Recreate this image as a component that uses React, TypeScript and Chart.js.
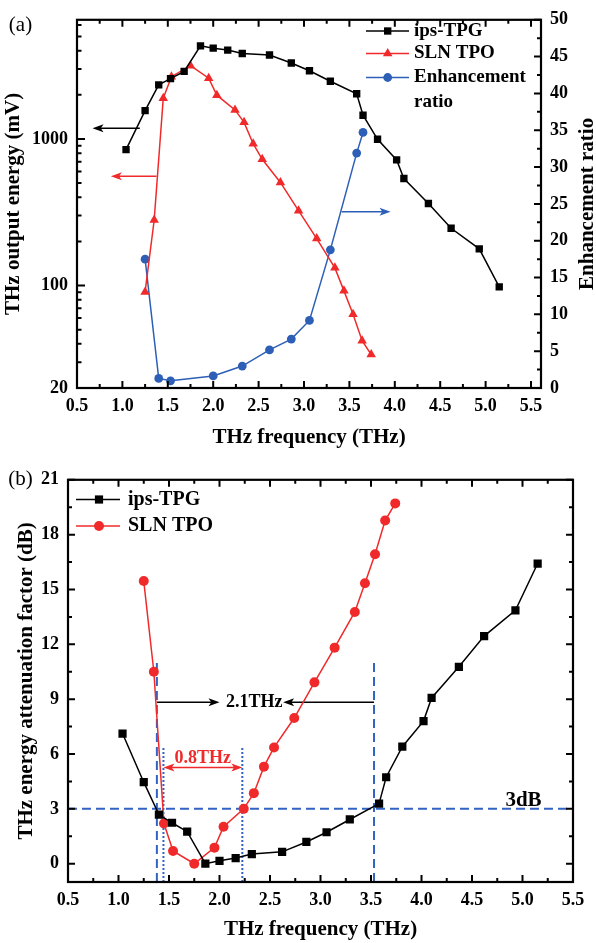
import React, { useEffect, useRef } from 'react';
import { Chart, registerables } from 'chart.js';
Chart.register(...registerables);

// ---------- data ----------
const ipsFreq = [1.04, 1.25, 1.40, 1.53, 1.68, 1.86, 2.00, 2.16, 2.32, 2.62, 2.86, 3.06, 3.29, 3.58, 3.65, 3.81, 4.02, 4.10, 4.37, 4.62, 4.93, 5.15];
const ipsEnergy = [845, 1560, 2340, 2580, 2890, 4316, 4165, 4040, 3830, 3740, 3300, 2920, 2475, 2035, 1452, 995, 720, 537, 363, 246, 178, 98];
const ipsAtten = [7.12, 4.46, 2.69, 2.24, 1.75, 0, 0.16, 0.31, 0.53, 0.65, 1.19, 1.72, 2.42, 3.29, 4.73, 6.40, 7.80, 9.07, 10.77, 12.45, 13.86, 16.42];

const slnFreq = [1.25, 1.35, 1.45, 1.54, 1.75, 1.95, 2.04, 2.24, 2.34, 2.44, 2.54, 2.74, 2.94, 3.14, 3.34, 3.44, 3.54, 3.64, 3.74];
const slnEnergy = [90.5, 280, 1895, 2660, 3163, 2600, 1990, 1578, 1298, 928, 727, 505, 324, 209, 132, 92, 63.8, 42, 33.8];
const slnAtten = [15.46, 10.5, 2.2, 0.70, 0, 0.88, 2.02, 3.0, 3.86, 5.31, 6.36, 7.97, 9.92, 11.82, 13.77, 15.34, 16.93, 18.77, 19.71];

const ratioFreq = [1.25, 1.40, 1.53, 2.00, 2.32, 2.62, 2.86, 3.06, 3.29, 3.58, 3.65];
const ratioValue = [17.5, 1.3, 0.98, 1.64, 2.98, 5.17, 6.64, 9.18, 18.76, 31.9, 34.7];

// ---------- ticks ----------
const xTicks = [0.5, 1.0, 1.5, 2.0, 2.5, 3.0, 3.5, 4.0, 4.5, 5.0, 5.5];
const xMinorTicks = [0.75, 1.25, 1.75, 2.25, 2.75, 3.25, 3.75, 4.25, 4.75, 5.25];
const energyTicks = [20, 100, 1000];
const energyMinorTicks = [30, 40, 50, 60, 70, 80, 90, 200, 300, 400, 500, 600, 700, 800, 900, 2000, 3000, 4000, 5000, 6000];
const ratioTicks = [0, 5, 10, 15, 20, 25, 30, 35, 40, 45, 50];
const ratioMinorTicks = [2.5, 7.5, 12.5, 17.5, 22.5, 27.5, 32.5, 37.5, 42.5, 47.5];
const attenTicks = [0, 3, 6, 9, 12, 15, 18, 21];
const attenMinorTicks = [1.5, 4.5, 7.5, 10.5, 13.5, 16.5, 19.5];

// ---------- annotation values ----------
const bandWide = [1.38, 3.53]; // 3 dB points ips-TPG
const bandNarrow = [1.445, 2.226]; // 3 dB points SLN TPO
const threeDb = 3;

const FONT = '"Liberation Serif", "Times New Roman", serif';
const BLACK = '#000000';
const RED = '#f02a2a';
const BLUE = '#2d5fb6';
const DASH_BLUE = '#3263c4';

type Ctx = CanvasRenderingContext2D;

function marker(ctx: Ctx, style: string, x: number, y: number, r: number, color: string) {
  ctx.save();
  ctx.fillStyle = color;
  ctx.beginPath();
  if (style === 'rect') {
    const s = r * Math.SQRT1_2;
    ctx.rect(x - s, y - s, 2 * s, 2 * s);
  } else if (style === 'triangle') {
    for (let i = 0; i < 3; i++) {
      const a = (i * 2 * Math.PI) / 3;
      const px = x + Math.sin(a) * r;
      const py = y - Math.cos(a) * r;
      if (i === 0) ctx.moveTo(px, py);
      else ctx.lineTo(px, py);
    }
    ctx.closePath();
  } else {
    ctx.arc(x, y, r, 0, Math.PI * 2);
  }
  ctx.fill();
  ctx.restore();
}

function arrowH(ctx: Ctx, x1: number, x2: number, y: number, color: string, lw = 1.5, hl = 11, hw = 4) {
  const dir = x2 > x1 ? 1 : -1;
  ctx.save();
  ctx.strokeStyle = color;
  ctx.fillStyle = color;
  ctx.lineWidth = lw;
  ctx.beginPath();
  ctx.moveTo(x1, y);
  ctx.lineTo(x2 - dir * hl * 0.6, y);
  ctx.stroke();
  ctx.beginPath();
  ctx.moveTo(x2, y);
  ctx.lineTo(x2 - dir * hl, y - hw);
  ctx.lineTo(x2 - dir * hl * 0.75, y);
  ctx.lineTo(x2 - dir * hl, y + hw);
  ctx.closePath();
  ctx.fill();
  ctx.restore();
}

function arrowHead(ctx: Ctx, x: number, y: number, dir: number, color: string, hl = 11, hw = 4) {
  ctx.save();
  ctx.fillStyle = color;
  ctx.beginPath();
  ctx.moveTo(x, y);
  ctx.lineTo(x - dir * hl, y - hw);
  ctx.lineTo(x - dir * hl * 0.75, y);
  ctx.lineTo(x - dir * hl, y + hw);
  ctx.closePath();
  ctx.fill();
  ctx.restore();
}

function text(ctx: Ctx, s: string, x: number, y: number, size: number, color = BLACK, bold = true, rot = 0, align: CanvasTextAlign = 'center') {
  ctx.save();
  ctx.font = `${bold ? 'bold ' : ''}${size}px ${FONT}`;
  ctx.fillStyle = color;
  ctx.textAlign = align;
  ctx.textBaseline = 'middle';
  ctx.translate(x, y);
  ctx.rotate(rot);
  ctx.fillText(s, 0, 0);
  ctx.restore();
}

function drawFrame(ctx: Ctx, a: any, lw: number) {
  ctx.save();
  ctx.strokeStyle = BLACK;
  ctx.lineWidth = lw;
  ctx.strokeRect(a.left, a.top, a.right - a.left, a.bottom - a.top);
  ctx.restore();
}

function ticksX(ctx: Ctx, scale: any, a: any, values: number[], len: number) {
  ctx.save();
  ctx.strokeStyle = BLACK;
  ctx.lineWidth = 2;
  ctx.beginPath();
  values.forEach((v) => {
    const p = scale.getPixelForValue(v);
    ctx.moveTo(p, a.bottom);
    ctx.lineTo(p, a.bottom - len);
    ctx.moveTo(p, a.top);
    ctx.lineTo(p, a.top + len);
  });
  ctx.stroke();
  ctx.restore();
}

function ticksY(ctx: Ctx, scale: any, a: any, values: number[], len: number, left: boolean, right: boolean) {
  ctx.save();
  ctx.strokeStyle = BLACK;
  ctx.lineWidth = 2;
  ctx.beginPath();
  values.forEach((v) => {
    const p = scale.getPixelForValue(v);
    if (left) {
      ctx.moveTo(a.left, p);
      ctx.lineTo(a.left + len, p);
    }
    if (right) {
      ctx.moveTo(a.right, p);
      ctx.lineTo(a.right - len, p);
    }
  });
  ctx.stroke();
  ctx.restore();
}

const tickFont = (size: number) => ({ family: FONT, size, weight: 'bold' as const });

const panelAPlugin = {
  id: 'panelA',
  beforeDatasetsDraw(chart: any) {
    const ctx: Ctx = chart.ctx;
    const x = chart.scales.x, yE = chart.scales.yE, yR = chart.scales.yR;
    arrowH(ctx, x.getPixelForValue(1.192), x.getPixelForValue(0.671), yE.getPixelForValue(1181), BLACK);
    arrowH(ctx, x.getPixelForValue(1.376), x.getPixelForValue(0.873), yE.getPixelForValue(556), RED);
    arrowH(ctx, x.getPixelForValue(3.414), x.getPixelForValue(3.953), yR.getPixelForValue(23.93), BLUE);
  },
  afterDraw(chart: any) {
    const ctx: Ctx = chart.ctx;
    const a = chart.chartArea;
    const x = chart.scales.x, yE = chart.scales.yE, yR = chart.scales.yR;
    drawFrame(ctx, a, 2.2);
    ticksX(ctx, x, a, xTicks, 7);
    ticksX(ctx, x, a, xMinorTicks, 4);
    ticksY(ctx, yE, a, energyTicks, 8, true, false);
    ticksY(ctx, yE, a, energyMinorTicks, 4.5, true, false);
    ticksY(ctx, yR, a, ratioTicks, 7, false, true);
    ticksY(ctx, yR, a, ratioMinorTicks, 4, false, true);
    // legend
    const rows = [
      { label: 'ips-TPG', color: BLACK, style: 'rect', r: 5.2, y: 31 },
      { label: 'SLN TPO', color: RED, style: 'triangle', r: 5.5, y: 53.5 },
      { label: 'Enhancement', color: BLUE, style: 'circle', r: 4.4, y: 77.5 },
    ];
    rows.forEach((r) => {
      ctx.save();
      ctx.strokeStyle = r.color;
      ctx.lineWidth = 1.5;
      ctx.beginPath();
      ctx.moveTo(366, r.y);
      ctx.lineTo(409, r.y);
      ctx.stroke();
      ctx.restore();
      marker(ctx, r.style, 387.7, r.y, r.r, r.color);
      text(ctx, r.label, 414, r.y, 19, BLACK, true, 0, 'left');
    });
    text(ctx, 'ratio', 414, 102.5, 19, BLACK, true, 0, 'left');
    // titles
    text(ctx, 'THz frequency (THz)', (a.left + a.right) / 2, 438, 21);
    text(ctx, 'THz output energy (mV)', 14, (a.top + a.bottom) / 2, 21, BLACK, true, -Math.PI / 2);
    text(ctx, 'Enhancement ratio', 588, (a.top + a.bottom) / 2, 21, BLACK, true, -Math.PI / 2);
    text(ctx, '(a)', 20.5, 25, 21, BLACK, false);
  },
};

const panelBPlugin = {
  id: 'panelB',
  beforeDatasetsDraw(chart: any) {
    const ctx: Ctx = chart.ctx;
    const a = chart.chartArea;
    const x = chart.scales.x, y = chart.scales.y;
    ctx.save();
    ctx.strokeStyle = DASH_BLUE;
    ctx.lineWidth = 2;
    ctx.setLineDash([9, 5]);
    ctx.beginPath();
    const y3 = y.getPixelForValue(threeDb);
    ctx.moveTo(a.left, y3);
    ctx.lineTo(a.right, y3);
    bandWide.forEach((f) => {
      const p = x.getPixelForValue(f);
      ctx.moveTo(p, a.bottom);
      ctx.lineTo(p, y.getPixelForValue(11));
    });
    ctx.stroke();
    ctx.setLineDash([2, 2]);
    ctx.beginPath();
    bandNarrow.forEach((f) => {
      const p = x.getPixelForValue(f);
      ctx.moveTo(p, a.bottom);
      ctx.lineTo(p, y.getPixelForValue(6.4));
    });
    ctx.stroke();
    ctx.restore();

    // 2.1 THz arrows
    const yA = y.getPixelForValue(8.83);
    arrowH(ctx, x.getPixelForValue(bandWide[0]), x.getPixelForValue(2.0), yA, BLACK);
    arrowH(ctx, x.getPixelForValue(bandWide[1]), x.getPixelForValue(2.63), yA, BLACK);
    text(ctx, '2.1THz', x.getPixelForValue(2.345), yA, 18);

    // 0.8 THz double arrow
    const yB = y.getPixelForValue(5.26);
    const xb1 = x.getPixelForValue(bandNarrow[0]);
    const xb2 = x.getPixelForValue(bandNarrow[1]);
    ctx.save();
    ctx.strokeStyle = RED;
    ctx.lineWidth = 1.5;
    ctx.beginPath();
    ctx.moveTo(xb1 + 6, yB);
    ctx.lineTo(xb2 - 6, yB);
    ctx.stroke();
    ctx.restore();
    arrowHead(ctx, xb1, yB, -1, RED);
    arrowHead(ctx, xb2, yB, 1, RED);
    text(ctx, '0.8THz', x.getPixelForValue(1.835), y.getPixelForValue(5.76), 18, RED);

    text(ctx, '3dB', x.getPixelForValue(5.01), y.getPixelForValue(3.45), 21);
  },
  afterDraw(chart: any) {
    const ctx: Ctx = chart.ctx;
    const a = chart.chartArea;
    const x = chart.scales.x, y = chart.scales.y;
    drawFrame(ctx, a, 2.2);
    ticksX(ctx, x, a, xTicks, 7);
    ticksX(ctx, x, a, xMinorTicks, 4);
    ticksY(ctx, y, a, attenTicks, 7, true, true);
    ticksY(ctx, y, a, attenMinorTicks, 4, true, true);
    const rows = [
      { label: 'ips-TPG', color: BLACK, style: 'rect', r: 5.8, y: 39.5 },
      { label: 'SLN TPO', color: RED, style: 'circle', r: 5, y: 66 },
    ];
    rows.forEach((r) => {
      ctx.save();
      ctx.strokeStyle = r.color;
      ctx.lineWidth = 1.5;
      ctx.beginPath();
      ctx.moveTo(76, r.y);
      ctx.lineTo(120, r.y);
      ctx.stroke();
      ctx.restore();
      marker(ctx, r.style, 99, r.y, r.r, r.color);
      text(ctx, r.label, 128, r.y, 20, BLACK, true, 0, 'left');
    });
    text(ctx, 'THz frequency (THz)', (a.left + a.right) / 2, 470, 21);
    text(ctx, 'THz energy attenuation factor (dB)', 27, (a.top + a.bottom) / 2, 21, BLACK, true, -Math.PI / 2);
    text(ctx, '(b)', 20.5, 19, 21, BLACK, false);
  },
};

function toPts(xs: number[], ys: number[]) {
  return xs.map((x, i) => ({ x, y: ys[i] }));
}

function ds(label: string, xs: number[], ys: number[], color: string, style: string, r: number, axis: string) {
  return {
    label,
    data: toPts(xs, ys),
    yAxisID: axis,
    borderColor: color,
    backgroundColor: color,
    borderWidth: 1.5,
    pointStyle: style,
    pointRadius: r,
    pointBorderWidth: 0,
    pointBackgroundColor: color,
    tension: 0,
    fill: false,
  };
}

function PanelA() {
  const ref = useRef<HTMLCanvasElement>(null);
  useEffect(() => {
    const chart = new Chart(ref.current as HTMLCanvasElement, {
      type: 'line',
      data: {
        datasets: [
          ds('ips-TPG', ipsFreq, ipsEnergy, BLACK, 'rect', 5.2, 'yE'),
          ds('SLN TPO', slnFreq, slnEnergy, RED, 'triangle', 5.5, 'yE'),
          ds('Enhancement ratio', ratioFreq, ratioValue, BLUE, 'circle', 4.4, 'yR'),
        ] as any,
      },
      options: {
        responsive: false,
        animation: false,
        devicePixelRatio: 1,
        layout: { padding: { top: 14, left: 0, right: 0, bottom: 0 } },
        plugins: { legend: { display: false }, tooltip: { enabled: false } },
        scales: {
          x: {
            type: 'linear', min: 0.5, max: 5.61, position: 'bottom',
            grid: { display: false, drawTicks: false }, border: { display: false },
            afterBuildTicks: (s: any) => { s.ticks = xTicks.map((v) => ({ value: v })); },
            afterFit: (s: any) => { s.height = 72; },
            ticks: { callback: (v: any) => Number(v).toFixed(1), font: tickFont(18), color: BLACK, padding: 8, maxRotation: 0, autoSkip: false },
          },
          yE: {
            type: 'logarithmic', min: 20, max: 6500, position: 'left',
            grid: { display: false, drawTicks: false }, border: { display: false },
            afterBuildTicks: (s: any) => { s.ticks = energyTicks.map((v) => ({ value: v })); },
            afterFit: (s: any) => { s.width = 77; },
            ticks: { callback: (v: any) => String(v), font: tickFont(18), color: BLACK, padding: 9, autoSkip: false },
          },
          yR: {
            type: 'linear', min: 0, max: 50, position: 'right',
            grid: { display: false, drawTicks: false }, border: { display: false },
            afterBuildTicks: (s: any) => { s.ticks = ratioTicks.map((v) => ({ value: v })); },
            afterFit: (s: any) => { s.width = 55; },
            ticks: { callback: (v: any) => String(v), font: tickFont(18), color: BLACK, padding: 9, autoSkip: false },
          },
        },
      } as any,
      plugins: [panelAPlugin],
    });
    return () => chart.destroy();
  }, []);
  return <canvas ref={ref} width={596} height={460} style={{ position: 'absolute', left: 0, top: 0, width: 596, height: 460 }} />;
}

function PanelB() {
  const ref = useRef<HTMLCanvasElement>(null);
  useEffect(() => {
    const chart = new Chart(ref.current as HTMLCanvasElement, {
      type: 'line',
      data: {
        datasets: [
          ds('ips-TPG', ipsFreq, ipsAtten, BLACK, 'rect', 5.8, 'y'),
          ds('SLN TPO', slnFreq, slnAtten, RED, 'circle', 5, 'y'),
        ] as any,
      },
      options: {
        responsive: false,
        animation: false,
        devicePixelRatio: 1,
        layout: { padding: { top: 15, left: 0, right: 23, bottom: 0 } },
        plugins: { legend: { display: false }, tooltip: { enabled: false } },
        scales: {
          x: {
            type: 'linear', min: 0.5, max: 5.5, position: 'bottom',
            grid: { display: false, drawTicks: false }, border: { display: false },
            afterBuildTicks: (s: any) => { s.ticks = xTicks.map((v) => ({ value: v })); },
            afterFit: (s: any) => { s.height = 61; },
            ticks: { callback: (v: any) => Number(v).toFixed(1), font: tickFont(18), color: BLACK, padding: 8, maxRotation: 0, autoSkip: false },
          },
          y: {
            type: 'linear', min: -1, max: 21, position: 'left',
            grid: { display: false, drawTicks: false }, border: { display: false },
            afterBuildTicks: (s: any) => { s.ticks = attenTicks.map((v) => ({ value: v })); },
            afterFit: (s: any) => { s.width = 68; },
            ticks: { callback: (v: any) => String(v), font: tickFont(18), color: BLACK, padding: 9, autoSkip: false },
          },
        },
      } as any,
      plugins: [panelBPlugin],
    });
    return () => chart.destroy();
  }, []);
  return <canvas ref={ref} width={596} height={483} style={{ position: 'absolute', left: 0, top: 460, width: 596, height: 483 }} />;
}

export default function App() {
  return (
    <div style={{ position: 'absolute', left: 0, top: 0, width: 596, height: 943, background: '#fff', overflow: 'hidden' }}>
      <PanelA />
      <PanelB />
    </div>
  );
}
